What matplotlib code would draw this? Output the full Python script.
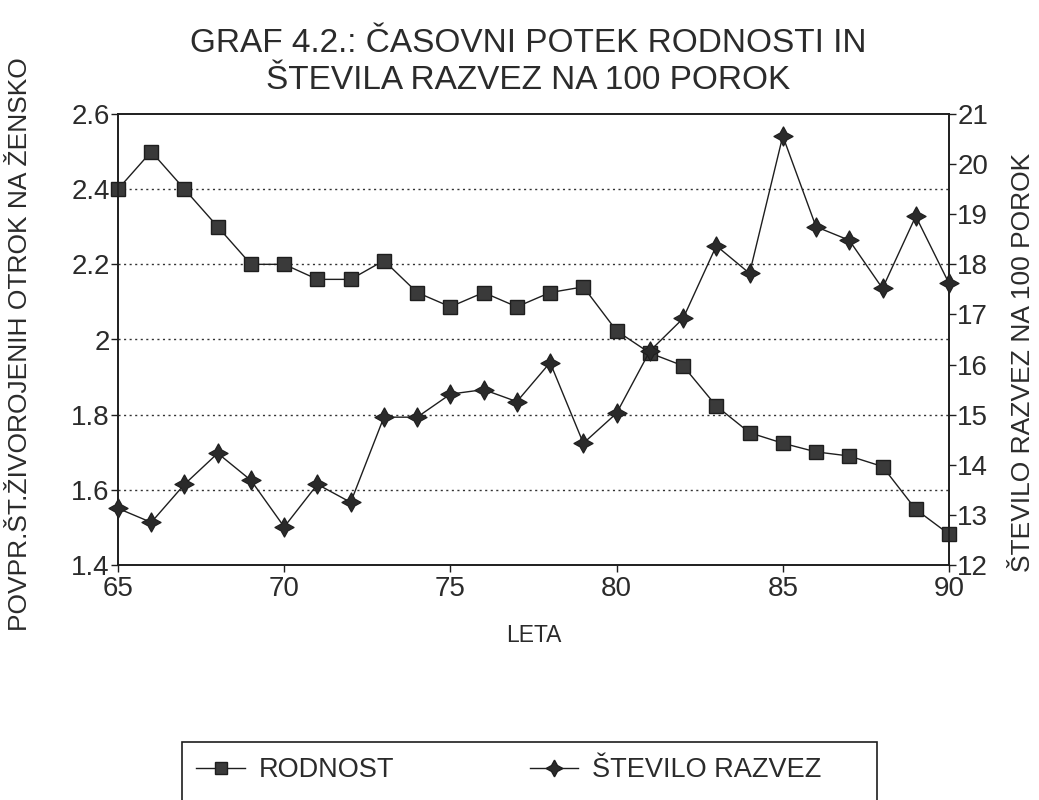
import numpy as np
import matplotlib
matplotlib.use("Agg")
import matplotlib.pyplot as plt
from matplotlib.lines import Line2D
from matplotlib.patches import Rectangle

plt.rcParams['font.family'] = ['Liberation Sans', 'DejaVu Sans']

# data
leta = list(range(65, 91))
rodnost = [2.40, 2.50, 2.40, 2.30, 2.20, 2.20, 2.16, 2.16, 2.21, 2.125, 2.087, 2.125, 2.087,
           2.125, 2.14, 2.023, 1.964, 1.93, 1.823, 1.752, 1.724, 1.701, 1.69, 1.662, 1.548, 1.482]
razveze = [13.13, 12.85, 13.61, 14.23, 13.69, 12.76, 13.61, 13.25, 14.95, 14.95, 15.41, 15.50, 15.26,
           16.04, 14.43, 15.03, 16.27, 16.92, 18.37, 17.82, 20.56, 18.75, 18.48, 17.52, 18.96, 17.62]

left_ticks = [1.4, 1.6, 1.8, 2.0, 2.2, 2.4, 2.6]
left_labels = ['1.4', '1.6', '1.8', '2', '2.2', '2.4', '2.6']
right_ticks = list(range(12, 22))
x_ticks = [65, 70, 75, 80, 85, 90]

txt = '#2b2b2b'
ink = '#1e1e1e'
star = (4, 1, 0)

fig = plt.figure(figsize=(10.39, 8), dpi=100)
ax = fig.add_axes([118/1039, 1 - 565/800, (949-118)/1039, (565-114)/800])
ax2 = ax.twinx()

ax.plot(leta, rodnost, color=ink, lw=1.0, marker='s', ms=10, mfc='#3a3a3a', mec=ink, mew=1.0,
        zorder=3, clip_on=False)
ax2.plot(leta, razveze, color=ink, lw=1.0, marker=star, ms=14, mfc='#2a2a2a', mec=ink,
         mew=0.8, zorder=3, clip_on=False)

ax.set_xlim(65, 90)
ax.set_ylim(1.4, 2.6)
ax2.set_ylim(12, 21)
ax.set_xticks(x_ticks)
ax.set_yticks(left_ticks)
ax.set_yticklabels(left_labels)
ax2.set_yticks(right_ticks)

for g in left_ticks[1:-1]:
    ax.axhline(g, color='#333333', lw=1.0, ls=(0, (1.5, 2.5)), zorder=1)

for a in (ax, ax2):
    for s in a.spines.values():
        s.set_color(ink)
        s.set_linewidth(1.2)
    a.tick_params(direction='out', length=5, width=1, colors=ink, labelcolor=txt,
                  labelsize=20, pad=1)
ax.tick_params(axis='x', pad=3)

ax.set_xlabel('LETA', fontsize=16.5, color=txt)
ax.xaxis.set_label_coords(0.5, -0.13)
ax.set_ylabel('POVPR.ŠT.ŽIVOROJENIH OTROK NA ŽENSKO', fontsize=19, color=txt)
ax.yaxis.set_label_coords(-0.104, 0.49)
ax2.set_ylabel('ŠTEVILO RAZVEZ NA 100 POROK', fontsize=19, color=txt)
ax2.yaxis.set_label_coords(1.075, 0.45)

fig.text(0.508, 0.965, 'GRAF 4.2.: ČASOVNI POTEK RODNOSTI IN\nŠTEVILA RAZVEZ NA 100 POROK',
         ha='center', va='top', fontsize=24, color=txt, linespacing=1.25)

# legend row with a box that runs off the bottom of the page
h1 = Line2D([], [], color=ink, lw=1.0, marker='s', ms=8, mfc='#3a3a3a', mec=ink)
h2 = Line2D([], [], color=ink, lw=1.0, marker=star, ms=12, mfc='#2a2a2a', mec=ink)
fig.legend([h1, h2], ['RODNOST', 'ŠTEVILO RAZVEZ'], ncol=2, frameon=False,
           loc='upper left', bbox_to_anchor=(172/1039, 1 - 733/800), fontsize=19.5,
           handlelength=1.8, handletextpad=0.5, columnspacing=5.0, labelcolor=txt)
fig.patches.append(Rectangle((182/1039, -0.05), (877-182)/1039, 0.05 + (800-742)/800,
                             transform=fig.transFigure, fill=False, ec=ink, lw=1.2))

fig.savefig('out.png', dpi=100)
